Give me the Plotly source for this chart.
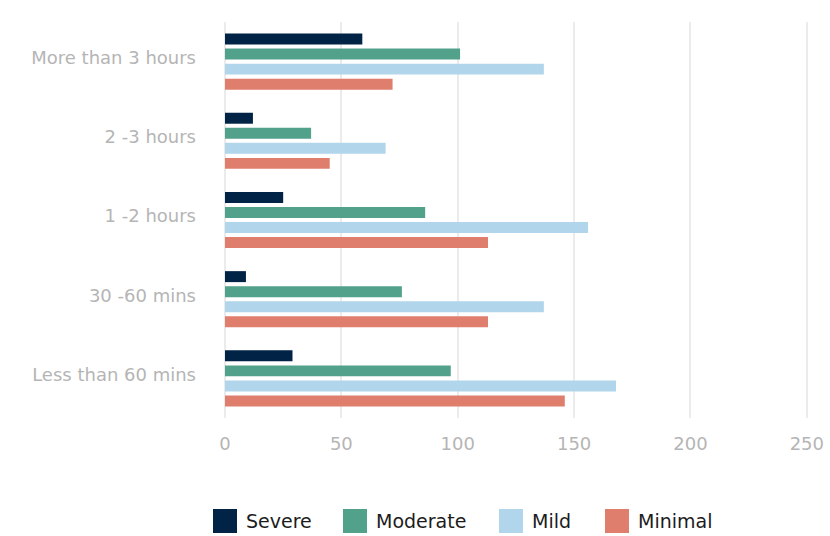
import plotly.graph_objects as go

# Screen-time buckets (top to bottom) and counts per severity level
categories = ["More than 3 hours", "2 -3 hours", "1 -2 hours", "30 -60 mins", "Less than 60 mins"]
severe = [59, 12, 25, 9, 29]
moderate = [101, 37, 86, 76, 97]
mild = [137, 69, 156, 137, 168]
minimal = [72, 45, 113, 113, 146]

series_names = ["Severe", "Moderate", "Mild", "Minimal"]
series_values = [severe, moderate, mild, minimal]
series_colors = ["#012345", "#52a18a", "#b1d5ea", "#e07e6e"]

x_ticks = [0, 50, 100, 150, 200, 250]

W, H = 830, 536
M_L, M_R, M_T, M_B = 225, 22, 22, 118
PW, PH = W - M_L - M_R, H - M_T - M_B

FONT = "DejaVu Sans, sans-serif"

fig = go.Figure()
for name, vals, color in zip(series_names, series_values, series_colors):
    fig.add_trace(go.Bar(
        y=categories, x=vals, name=name, orientation="h",
        marker=dict(color=color, line=dict(width=0)),
        showlegend=False,
    ))


def px_x(p):
    return (p - M_L) / PW


def px_y(p):
    return (H - M_B - p) / PH


# Legend drawn below the plot: big square swatches with labels
legend_swatch_x = [213, 343, 499, 605]
shapes, annotations = [], []
for name, color, sx in zip(series_names, series_colors, legend_swatch_x):
    shapes.append(dict(
        type="rect", xref="paper", yref="paper",
        x0=px_x(sx), x1=px_x(sx + 24), y0=px_y(533), y1=px_y(509),
        fillcolor=color, line=dict(width=0),
    ))
    annotations.append(dict(
        xref="paper", yref="paper", x=px_x(sx + 31), y=px_y(521),
        xanchor="left", yanchor="middle", text=name, showarrow=False,
        font=dict(family=FONT, size=19, color="#1c1c1c"),
    ))

fig.update_layout(
    width=W, height=H,
    margin=dict(l=M_L, r=M_R, t=M_T, b=M_B, pad=0, autoexpand=False),
    paper_bgcolor="white", plot_bgcolor="white",
    barmode="group", bargap=0.24, bargroupgap=0.27,
    font=dict(family=FONT),
    shapes=shapes, annotations=annotations,
    showlegend=False,
)
fig.update_xaxes(
    range=[0, 250.5], tickvals=x_ticks, automargin=False,
    showgrid=True, gridcolor="#ebebeb", gridwidth=1.5,
    zeroline=True, zerolinecolor="#ebebeb", zerolinewidth=1.5,
    showline=False, ticks="",
    tickfont=dict(family=FONT, size=18, color="#b5b5b5"),
    ticklabelstandoff=13,
)
fig.update_yaxes(
    autorange="reversed", showgrid=False, showline=False, ticks="",
    automargin=False,
    tickfont=dict(family=FONT, size=18, color="#b5b5b5"),
    ticklabelstandoff=28, ticklabelshift=4,
)

fig.write_html("out.html")
